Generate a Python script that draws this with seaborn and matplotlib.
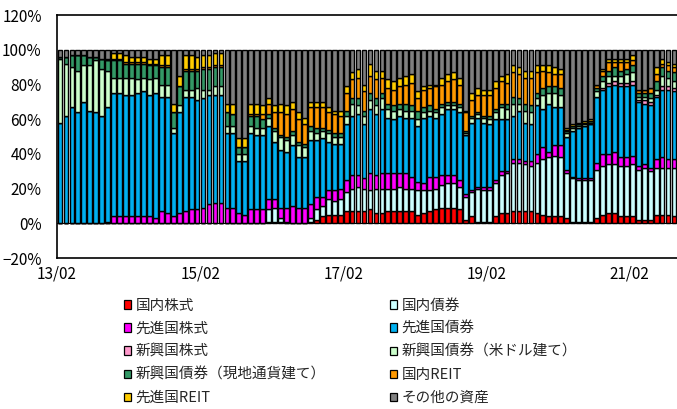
import matplotlib
matplotlib.use("Agg")
import matplotlib.pyplot as plt
from matplotlib.patches import Patch
import numpy as np
import pandas as pd
import seaborn as sns

# 月次の資産配分 (%), 13/02 から 104 か月分
series_names = ['国内株式', '国内債券', '先進国株式', '先進国債券', '新興国株式',
                '新興国債券（米ドル建て）', '新興国債券（現地通貨建て）', '国内REIT',
                '先進国REIT', 'その他の資産']
series_colors = ['#FF0000', '#CCFFFF', '#FF00FF', '#00B0F0', '#FF99CC',
                 '#CCFFCC', '#339966', '#FF9900', '#FFCC00', '#808080']
tick_labels = ['13/02', '15/02', '17/02', '19/02', '21/02']

dom_stock = [0, 0, 0, 0, 0, 0, 0, 0, 0, 0, 0, 0, 0, 0, 0, 0, 0, 0, 0, 0,
             0, 0, 0, 0, 0, 0, 0, 0, 0, 0, 0, 0, 0, 0, 0, 1, 1, 1, 0, 0,
             0, 0, 1, 2, 4, 5, 5, 5, 7, 7, 7, 7, 8, 6, 6, 7, 7, 7, 7, 7,
             5, 6, 7, 8, 9, 9, 9, 8, 2, 4, 1, 1, 1, 4, 6, 6, 7, 7, 7, 7,
             6, 5, 4, 4, 4, 3, 1, 1, 1, 1, 3, 5, 6, 6, 4, 4, 4, 2, 2, 2,
             5, 5, 5, 4]
dom_bond = [0, 0, 0, 0, 0, 0, 0, 0, 0, 0, 0, 0, 0, 0, 0, 0, 0, 0, 0, 0,
            0, 0, 0, 0, 0, 0, 0, 0, 0, 0, 0, 0, 0, 0, 0, 7, 8, 2, 1, 0,
            0, 0, 2, 6, 6, 9, 8, 9, 11, 13, 14, 13, 11, 14, 14, 13, 13, 14, 13, 13,
            14, 13, 12, 12, 13, 14, 14, 13, 13, 14, 19, 18, 18, 19, 22, 23, 28, 28, 27, 26,
            29, 32, 34, 35, 34, 26, 25, 24, 24, 24, 28, 28, 28, 28, 29, 29, 30, 29, 30, 28,
            27, 27, 27, 28]
dev_stock = [0, 0, 0, 0, 0, 0, 0, 0, 1, 4, 4, 4, 4, 4, 4, 4, 3, 7, 6, 4,
             6, 7, 8, 8, 9, 11, 12, 12, 9, 9, 6, 5, 8, 8, 8, 6, 5, 6, 8, 10,
             9, 9, 8, 7, 5, 5, 6, 6, 7, 8, 7, 6, 10, 8, 9, 9, 9, 8, 9, 7,
             5, 4, 8, 7, 6, 5, 5, 4, 2, 1, 1, 2, 2, 2, 2, 1, 2, 2, 2, 3,
             5, 7, 3, 6, 7, 2, 1, 1, 1, 1, 4, 7, 6, 7, 5, 5, 5, 2, 2, 2,
             5, 6, 5, 5]
dev_bond = [58, 62, 67, 64, 70, 65, 64, 62, 66, 71, 71, 70, 70, 71, 72, 70, 72, 66, 67, 48,
            58, 66, 65, 63, 63, 63, 62, 62, 43, 43, 30, 31, 44, 43, 43, 42, 33, 33, 32, 35,
            29, 29, 37, 33, 34, 28, 27, 26, 32, 34, 35, 31, 37, 35, 37, 32, 31, 33, 32, 34,
            32, 38, 35, 34, 35, 38, 38, 39, 34, 39, 40, 37, 36, 35, 30, 30, 25, 28, 22, 21,
            28, 22, 28, 22, 22, 19, 26, 29, 30, 31, 38, 37, 39, 39, 41, 41, 41, 37, 35, 36,
            36, 39, 40, 39]
em_stock = [0, 0, 0, 0, 0, 0, 0, 0, 0, 0, 0, 0, 0, 0, 0, 0, 0, 0, 0, 0,
            0, 0, 0, 0, 0, 0, 0, 0, 0, 0, 0, 0, 0, 0, 0, 0, 0, 0, 0, 0,
            0, 0, 0, 0, 0, 0, 0, 0, 0, 0, 0, 0, 0, 0, 0, 0, 0, 0, 0, 0,
            0, 0, 0, 0, 0, 0, 0, 0, 0, 0, 0, 0, 0, 0, 0, 0, 0, 0, 0, 0,
            0, 0, 0, 0, 0, 0, 0, 0, 0, 0, 0, 1, 2, 2, 2, 2, 2, 1, 2, 2,
            1, 2, 2, 2]
em_bond_usd = [37, 30, 23, 24, 21, 26, 30, 27, 21, 9, 9, 10, 10, 8, 8, 9, 9, 7, 7, 3,
               4, 4, 4, 7, 5, 3, 5, 5, 4, 4, 4, 4, 4, 4, 4, 5, 6, 8, 7, 6,
               7, 6, 5, 4, 4, 5, 4, 4, 5, 7, 5, 5, 5, 5, 6, 5, 5, 4, 4, 4,
               4, 3, 3, 3, 4, 2, 2, 3, 1, 3, 2, 3, 3, 4, 7, 6, 7, 4, 7, 7,
               4, 8, 6, 8, 7, 2, 2, 1, 1, 1, 3, 4, 4, 3, 4, 5, 5, 2, 2, 2,
               3, 6, 5, 4]
em_bond_local = [1, 4, 7, 9, 6, 5, 2, 6, 6, 10, 10, 8, 8, 9, 8, 8, 7, 10, 10, 9,
                 11, 11, 11, 10, 12, 12, 11, 11, 8, 7, 4, 4, 6, 7, 5, 2, 2, 1, 2, 2,
                 2, 2, 3, 3, 2, 2, 2, 2, 3, 3, 4, 3, 4, 4, 3, 3, 3, 3, 4, 3,
                 5, 3, 3, 2, 2, 2, 2, 2, 1, 1, 1, 1, 2, 2, 2, 3, 4, 3, 4, 4,
                 3, 4, 4, 4, 4, 1, 1, 1, 1, 1, 2, 3, 3, 5, 3, 3, 4, 2, 2, 3,
                 5, 5, 4, 5]
dom_reit = [0, 0, 0, 0, 0, 0, 0, 0, 0, 1, 1, 1, 1, 1, 1, 1, 1, 1, 1, 0,
            0, 1, 1, 1, 1, 1, 1, 1, 0, 0, 0, 0, 1, 1, 3, 6, 9, 13, 13, 13,
            13, 11, 11, 12, 12, 10, 11, 10, 10, 11, 12, 11, 10, 11, 9, 9, 9, 10, 11, 13,
            7, 10, 10, 13, 11, 12, 13, 11, 11, 9, 10, 12, 12, 12, 13, 12, 14, 14, 15, 16,
            12, 10, 8, 7, 8, 1, 0, 0, 0, 0, 2, 3, 5, 3, 5, 4, 3, 2, 2, 3,
            4, 2, 3, 3]
dev_reit = [0, 0, 0, 0, 0, 0, 0, 0, 1, 3, 3, 4, 3, 3, 3, 3, 3, 6, 6, 5,
            6, 8, 8, 7, 7, 7, 7, 7, 5, 6, 5, 5, 6, 6, 5, 3, 4, 5, 5, 4,
            4, 4, 3, 3, 3, 3, 2, 3, 4, 4, 5, 4, 7, 5, 4, 5, 5, 5, 5, 5,
            4, 2, 2, 1, 4, 4, 4, 4, 1, 4, 4, 3, 3, 4, 3, 5, 4, 4, 4, 4,
            4, 3, 4, 4, 3, 1, 1, 1, 1, 1, 0, 1, 2, 2, 2, 2, 3, 0, 0, 0,
            4, 3, 2, 2]
others = [4, 4, 3, 3, 3, 4, 4, 5, 5, 2, 2, 3, 4, 4, 4, 5, 5, 3, 3, 31,
          15, 3, 3, 4, 3, 3, 2, 2, 31, 31, 51, 51, 31, 31, 32, 28, 32, 31, 32, 30,
          36, 39, 30, 30, 30, 33, 35, 35, 21, 13, 11, 20, 8, 12, 12, 17, 18, 16, 15, 14,
          24, 21, 20, 20, 16, 14, 13, 16, 35, 25, 22, 23, 23, 18, 15, 14, 9, 10, 12, 12,
          9, 9, 9, 10, 11, 45, 43, 42, 41, 40, 20, 11, 5, 5, 5, 5, 3, 23, 23, 22,
          10, 5, 7, 8]

all_series = [dom_stock, dom_bond, dev_stock, dev_bond, em_stock,
              em_bond_usd, em_bond_local, dom_reit, dev_reit, others]

rows = []
for name, vals in zip(series_names, all_series):
    for i, v in enumerate(vals):
        rows.append({'month': i, 'series': name, 'value': v})
df = pd.DataFrame(rows)
n_months = len(dom_stock)

sns.set_style('white')
plt.rcParams['font.family'] = ['Noto Sans CJK JP', 'DejaVu Sans']
plt.rcParams['axes.unicode_minus'] = True

fig = plt.figure(figsize=(6.77, 4.09), dpi=100)
ax = fig.add_axes([0.0842, 0.369, 0.9158, 0.594])

palette = dict(zip(series_names, series_colors))
# 塗りつぶし積み上げ (seabornは先頭の水準を上に積むので逆順で渡す)
sns.histplot(data=df, x='month', weights='value', hue='series',
             hue_order=series_names[::-1], multiple='fill', discrete=True,
             shrink=0.8, palette=palette, edgecolor='black', linewidth=1.0,
             alpha=1, legend=False, ax=ax)

ax.axhline(0, color='black', lw=0.8)
ax.set_xlim(-0.5, n_months - 0.5)
ax.set_ylim(-0.2, 1.2)
ax.set_yticks(np.arange(-0.2, 1.21, 0.2))
ax.set_yticklabels([f'{int(round(t * 100))}%'.replace('-', '\u2212')
                    for t in np.arange(-0.2, 1.21, 0.2)])
ax.set_xticks([-0.5 + 24 * k for k in range(len(tick_labels))])
ax.set_xticklabels(tick_labels)
ax.tick_params(axis='both', length=0, labelsize=11, colors='black')
ax.tick_params(axis='y', pad=11)
ax.tick_params(axis='x', pad=5)
ax.set_xlabel('')
ax.set_ylabel('')
for side in ['left', 'top', 'bottom']:
    ax.spines[side].set_color('black')
    ax.spines[side].set_linewidth(1.2)
ax.spines['right'].set_visible(False)

# 凡例は行方向に並べる
order = [0, 2, 4, 6, 8, 1, 3, 5, 7, 9]
handles = [Patch(facecolor=series_colors[k], edgecolor='black', linewidth=0.9)
           for k in order]
labels = [series_names[k] for k in order]
fig.legend(handles, labels, ncol=2, loc='upper left',
           bbox_to_anchor=(0.183, 0.270), frameon=False, fontsize=10.5,
           borderpad=0, borderaxespad=0, handlelength=0.5, handleheight=0.5,
           handletextpad=0.3, labelspacing=0.62, columnspacing=4.4)

fig.savefig('out.png', dpi=100)
